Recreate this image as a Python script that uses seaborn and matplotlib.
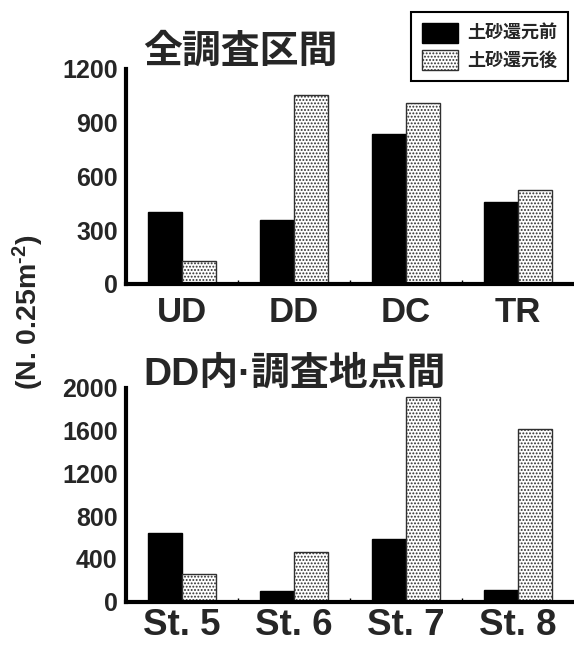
import matplotlib
matplotlib.use("Agg")
import matplotlib.pyplot as plt
import seaborn as sns
import pandas as pd
from matplotlib.patches import Patch

# ---- data ----
top_categories = ["UD", "DD", "DC", "TR"]
top_before = [404, 359, 837, 458]
top_after = [130, 1055, 1010, 525]

bottom_categories = ["St. 5", "St. 6", "St. 7", "St. 8"]
bottom_before = [645, 100, 586, 109]
bottom_after = [259, 461, 1916, 1610]

series_names = ["土砂還元前", "土砂還元後"]
top_ticks = [0, 300, 600, 900, 1200]
bottom_ticks = [0, 400, 800, 1200, 1600, 2000]

title_top = "全調査区間"
title_bottom = "DD内·調査地点間"
ylabel = "(N. 0.25m$^{\\text{-2}}$)"

sns.set_style("white")
plt.rcParams["font.family"] = ["Liberation Sans", "Noto Sans CJK JP"]
plt.rcParams["font.weight"] = "bold"
plt.rcParams["mathtext.fontset"] = "custom"
plt.rcParams["mathtext.rm"] = "Liberation Sans:bold"
plt.rcParams["mathtext.it"] = "Liberation Sans:bold"
plt.rcParams["mathtext.bf"] = "Liberation Sans:bold"
plt.rcParams["hatch.color"] = "#a8a8a8"
plt.rcParams["hatch.linewidth"] = 0.9

fig = plt.figure(figsize=(5.74, 6.45), dpi=100)
ax1 = fig.add_axes([126/574, 1-284/645, 1-126/574, (284-69)/645])
ax2 = fig.add_axes([126/574, 1-601.7/645, 1-126/574, (601.7-387.7)/645])


def make_df(cats, before, after):
    rows = []
    for c, b, a in zip(cats, before, after):
        rows.append({"cat": c, "series": series_names[0], "value": b})
        rows.append({"cat": c, "series": series_names[1], "value": a})
    return pd.DataFrame(rows)


def draw(ax, cats, before, after, ticks, xfs, xpad):
    df = make_df(cats, before, after)
    sns.barplot(data=df, x="cat", y="value", hue="series", ax=ax,
                palette=["black", "white"], width=0.6, gap=0,
                edgecolor="#303030", linewidth=1.0, legend=False,
                order=cats, hue_order=series_names, errorbar=None)
    n = len(cats)
    for i, p in enumerate(ax.patches):
        if i >= n:
            p.set_hatch(".....")
            p.set_facecolor("white")
            p.set_edgecolor("#303030")
        else:
            p.set_facecolor("black")
            p.set_edgecolor("black")
    ax.set_xlim(-0.5, n - 0.5)
    ax.set_ylim(0, ticks[-1])
    ax.set_yticks(ticks)
    ax.set_yticklabels([str(t) for t in ticks], fontsize=18, fontweight="bold",
                       family="Liberation Sans")
    ax.set_xticks(range(n))
    ax.set_xticklabels(cats, fontsize=xfs, fontweight="bold", family="Liberation Sans")
    ax.set_xticks([i + 0.5 for i in range(n - 1)], minor=True)
    ax.tick_params(axis="x", which="major", length=0, pad=xpad)
    ax.tick_params(axis="x", which="minor", length=3, width=1, direction="in",
                   bottom=True, color="black")
    ax.tick_params(axis="y", length=0, pad=6)
    ax.set_xlabel("")
    ax.set_ylabel("")
    for s in ["top", "right"]:
        ax.spines[s].set_visible(False)
    for s in ["left", "bottom"]:
        ax.spines[s].set_linewidth(3)
        ax.spines[s].set_color("black")


draw(ax1, top_categories, top_before, top_after, top_ticks, 25, 9)
draw(ax2, bottom_categories, bottom_before, bottom_after, bottom_ticks, 26.5, 4.5)

fig.text(143/574, 1-51/645, title_top, fontsize=28, fontweight="bold",
         family=["Noto Sans CJK JP"], va="center", ha="left")
fig.text(143/574, 1-374/645, title_bottom, fontsize=28, fontweight="bold",
         family=["Liberation Sans", "Noto Sans CJK JP"], va="center", ha="left")
fig.text(28/574, 1-312/645, ylabel, fontsize=20.5, fontweight="bold",
         rotation=90, va="center", ha="center", family="Liberation Sans")

handles = [Patch(facecolor="black", edgecolor="black"),
           Patch(facecolor="white", edgecolor="#303030", hatch=".....")]
leg = fig.legend(handles, series_names, loc="upper right",
                 bbox_to_anchor=(568/574, 1-12/645), frameon=True,
                 fancybox=False, edgecolor="black", framealpha=1,
                 prop={"family": "Noto Sans CJK JP", "weight": "bold", "size": 13},
                 handlelength=2.0, handleheight=1.3, borderpad=0.6,
                 labelspacing=0.4, handletextpad=0.5, borderaxespad=0)
leg.get_frame().set_linewidth(1.5)

fig.savefig("out.png", dpi=100)
